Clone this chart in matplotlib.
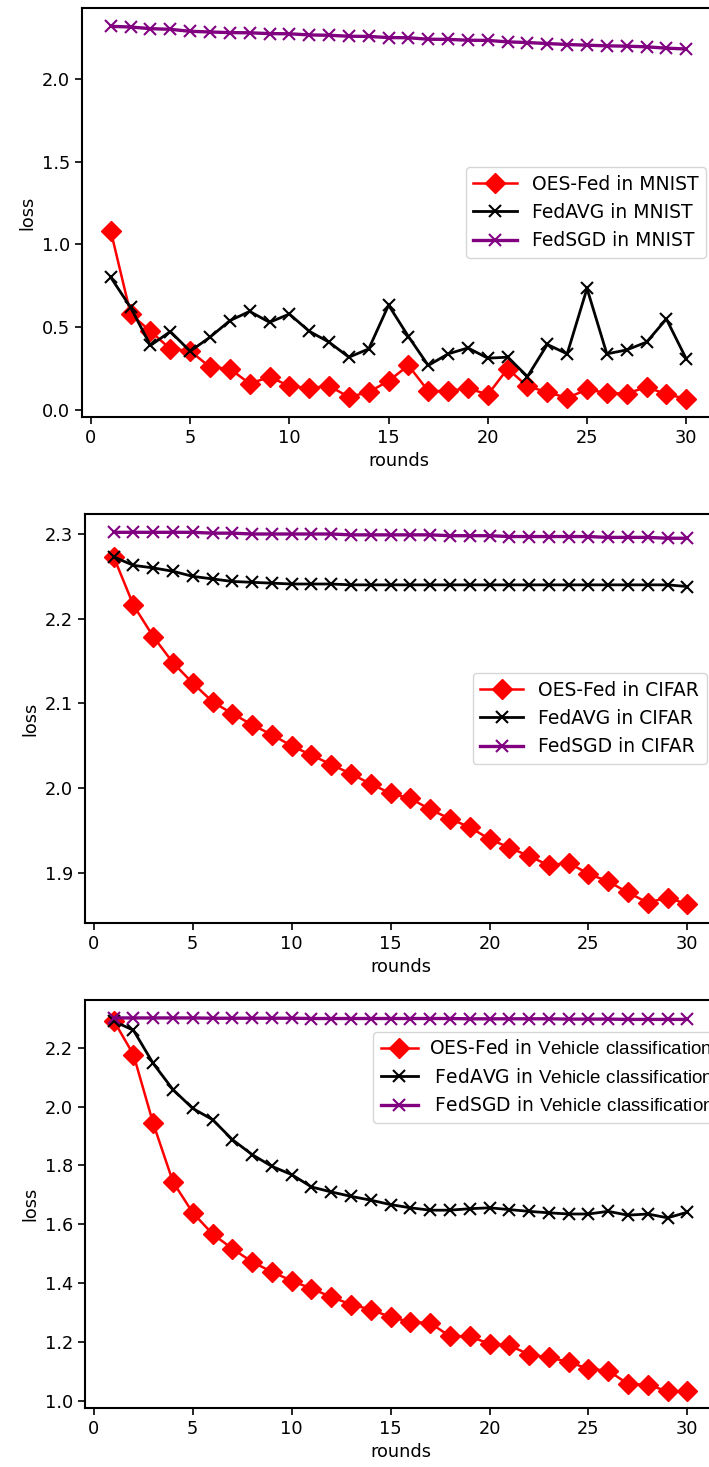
import numpy as np
import matplotlib
matplotlib.use('Agg')
import matplotlib.pyplot as plt

# ==========================================
# DATA
# ==========================================
rounds = np.arange(1, 31)

# MNIST
mnist_oes = [1.08, 0.578, 0.474, 0.367, 0.355, 0.257, 0.247, 0.157, 0.197, 0.143,
             0.13, 0.143, 0.076, 0.106, 0.173, 0.267, 0.112, 0.112, 0.13, 0.09,
             0.247, 0.14, 0.106, 0.07, 0.122, 0.10, 0.096, 0.137, 0.092, 0.066]
mnist_avg = [0.80, 0.618, 0.388, 0.472, 0.353, 0.438, 0.538, 0.594, 0.528, 0.578,
             0.474, 0.408, 0.317, 0.367, 0.632, 0.442, 0.267, 0.337, 0.373, 0.311,
             0.317, 0.20, 0.394, 0.337, 0.733, 0.337, 0.361, 0.408, 0.548, 0.307]
mnist_sgd = [2.319, 2.315, 2.305, 2.301, 2.289, 2.285, 2.281, 2.280, 2.275, 2.274,
             2.267, 2.265, 2.259, 2.258, 2.251, 2.250, 2.241, 2.240, 2.235, 2.234,
             2.225, 2.221, 2.215, 2.209, 2.205, 2.201, 2.199, 2.195, 2.187, 2.182]

# CIFAR
cifar_oes = [2.273, 2.216, 2.179, 2.148, 2.124, 2.102, 2.088, 2.075, 2.063, 2.050,
             2.039, 2.028, 2.017, 2.005, 1.994, 1.988, 1.975, 1.964, 1.954, 1.940,
             1.930, 1.920, 1.909, 1.912, 1.899, 1.890, 1.877, 1.865, 1.871, 1.863]
cifar_avg = [2.273, 2.263, 2.260, 2.256, 2.250, 2.247, 2.244, 2.243, 2.242, 2.241,
             2.241, 2.241, 2.240, 2.240, 2.240, 2.240, 2.240, 2.240, 2.240, 2.240,
             2.240, 2.240, 2.240, 2.240, 2.240, 2.240, 2.240, 2.240, 2.240, 2.238]
cifar_sgd = [2.302, 2.302, 2.302, 2.302, 2.302, 2.301, 2.301, 2.300, 2.300, 2.300,
             2.300, 2.300, 2.299, 2.299, 2.299, 2.299, 2.299, 2.298, 2.298, 2.298,
             2.297, 2.297, 2.297, 2.297, 2.297, 2.296, 2.296, 2.296, 2.295, 2.295]

# Vehicle classification
veh_oes = [2.293, 2.177, 1.943, 1.744, 1.639, 1.567, 1.517, 1.472, 1.438, 1.408,
           1.381, 1.353, 1.327, 1.310, 1.284, 1.268, 1.264, 1.219, 1.219, 1.193,
           1.188, 1.157, 1.147, 1.132, 1.108, 1.102, 1.057, 1.054, 1.032, 1.032]
veh_avg = [2.291, 2.260, 2.147, 2.058, 1.994, 1.956, 1.888, 1.837, 1.797, 1.769,
           1.727, 1.710, 1.695, 1.682, 1.667, 1.656, 1.648, 1.648, 1.653, 1.656,
           1.650, 1.644, 1.639, 1.635, 1.635, 1.644, 1.631, 1.635, 1.622, 1.641]
veh_sgd = [2.302, 2.302, 2.302, 2.302, 2.302, 2.301, 2.301, 2.301, 2.301, 2.301,
           2.300, 2.300, 2.300, 2.300, 2.300, 2.300, 2.300, 2.300, 2.299, 2.299,
           2.299, 2.299, 2.299, 2.298, 2.298, 2.298, 2.297, 2.297, 2.297, 2.297]

mnist_labels = ['OES-Fed in MNIST', 'FedAVG in MNIST', 'FedSGD in MNIST']
cifar_labels = ['OES-Fed in CIFAR', 'FedAVG in CIFAR', 'FedSGD in CIFAR']
# the dataset name in this legend is set in an Arial-like face (mathtext rm below)
veh_labels = [r'OES-Fed in $\mathrm{Vehicle\ classification}$',
              r' FedAVG in $\mathrm{Vehicle\ classification}$',
              r' FedSGD in $\mathrm{Vehicle\ classification}$']

plt.rcParams['mathtext.fontset'] = 'custom'
plt.rcParams['mathtext.rm'] = 'Liberation Sans'

FS = 12.8      # ticks / axis labels
LFS = 13.5     # legend text

# ==========================================
# FIGURE: three stacked panels
# ==========================================
W, H = 709, 1467
fig = plt.figure(figsize=(W / 100, H / 100), dpi=100)

def add_axes_px(left, top, right, bottom):
    return fig.add_axes([left / W, (H - bottom) / H, (right - left) / W, (bottom - top) / H])

ax1 = add_axes_px(82, 8, 715, 417)
ax2 = add_axes_px(85, 514, 716, 923)
ax3 = add_axes_px(85, 1000, 716, 1408)

def draw_panel(ax, oes, avg, sgd, ylim):
    l1, = ax.plot(rounds, oes, color='red', marker='D', markersize=10, lw=1.8)
    l2, = ax.plot(rounds, avg, color='black', marker='x', markersize=8.5, mew=1.5, lw=2.0)
    l3, = ax.plot(rounds, sgd, color='purple', marker='x', markersize=8.5, mew=1.5, lw=2.4)
    ax.set_xlim(-0.45, 31.45)
    ax.set_ylim(*ylim)
    ax.set_xticks([0, 5, 10, 15, 20, 25, 30])
    ax.tick_params(labelsize=FS, width=1.2, length=5)
    for s in ax.spines.values():
        s.set_linewidth(1.5)
    ax.set_xlabel('rounds', fontsize=FS)
    ax.set_ylabel('loss', fontsize=FS)
    return [l1, l2, l3]

h1 = draw_panel(ax1, mnist_oes, mnist_avg, mnist_sgd, (-0.045, 2.43))
ax1.set_yticks([0.0, 0.5, 1.0, 1.5, 2.0])
ax1.legend(h1, mnist_labels, loc='center right', fontsize=LFS, handlelength=2.3)

h2 = draw_panel(ax2, cifar_oes, cifar_avg, cifar_sgd, (1.841, 2.3236))
ax2.set_yticks([1.9, 2.0, 2.1, 2.2, 2.3])
ax2.legend(h2, cifar_labels, loc='center right', fontsize=LFS, handlelength=2.3)

h3 = draw_panel(ax3, veh_oes, veh_avg, veh_sgd, (0.975, 2.363))
ax3.set_yticks([1.0, 1.2, 1.4, 1.6, 1.8, 2.0, 2.2])
ax3.legend(h3, veh_labels, loc='upper left', fontsize=LFS, handlelength=2.0,
           handletextpad=0.6, borderaxespad=0.0,
           bbox_to_anchor=((373 - 85) / 631, (1408 - 1032) / 408))

fig.savefig('out.png', dpi=100)
